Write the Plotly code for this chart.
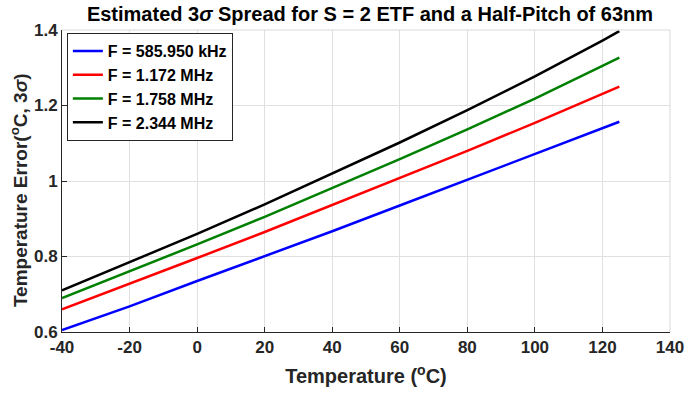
import plotly.graph_objects as go

temps = [-40, -20, 0, 20, 40, 60, 80, 100, 120, 125]
blue = [0.605, 0.668, 0.735, 0.800, 0.867, 0.935, 1.003, 1.072, 1.140, 1.157]
red = [0.660, 0.727, 0.796, 0.865, 0.936, 1.007, 1.080, 1.154, 1.230, 1.250]
green = [0.690, 0.760, 0.832, 0.905, 0.981, 1.058, 1.137, 1.218, 1.305, 1.327]
black = [0.710, 0.784, 0.860, 0.938, 1.019, 1.102, 1.188, 1.277, 1.372, 1.397]
names = ["F = 585.950 kHz", "F = 1.172 MHz", "F = 1.758 MHz", "F = 2.344 MHz"]
colors = ["#0000ff", "#ff0000", "#008000", "#000000"]
series = [blue, red, green, black]

xticks = [-40, -20, 0, 20, 40, 60, 80, 100, 120, 140]
xtick_text = ["-40", "-20", "0", "20", "40", "60", "80", "100", "120", "140"]
yticks = [0.6, 0.8, 1.0, 1.2, 1.4]
ytick_text = ["0.6", "0.8", "1", "1.2", "1.4"]

font = "Liberation Sans, Arial, sans-serif"
fig = go.Figure()
for ys, n, c in zip(series, names, colors):
    fig.add_trace(go.Scatter(x=temps, y=ys, mode="lines", name=n,
                             line=dict(color=c, width=2.5)))

fig.update_layout(
    width=696, height=395,
    margin=dict(l=62, r=16, t=30, b=60),
    paper_bgcolor="white", plot_bgcolor="white",
    font=dict(family=font, color="#262626", size=17),
    title=dict(text="<b>Estimated 3<i>σ</i> Spread for S = 2 ETF and a Half-Pitch of 63nm</b>",
               x=370/696, xanchor="center", y=1 - 14/395, yanchor="middle",
               font=dict(size=20, color="black", family=font)),
    legend=dict(x=0.008, y=0.99, xanchor="left", yanchor="top",
                bordercolor="#262626", borderwidth=1, bgcolor="white",
                font=dict(size=16, color="black", family=font, weight="bold"),
                itemwidth=30, tracegroupgap=0),
    showlegend=True,
)
fig.update_xaxes(range=[-40, 140], tickvals=xticks, ticktext=xtick_text, ticks="inside",
                 ticklen=5, tickcolor="#262626", showline=True, linecolor="#262626",
                 linewidth=1, mirror=False, showgrid=True, gridcolor="#e0e0e0",
                 zeroline=False,
                 tickfont=dict(size=17, family=font, weight="bold", color="#262626"),
                 title=dict(text="<b>Temperature (<sup>o</sup>C)</b>", standoff=12,
                            font=dict(size=20, family=font, color="#262626")))
fig.update_yaxes(range=[0.6, 1.4], tickvals=yticks, ticktext=ytick_text, ticks="inside",
                 ticklen=5, tickcolor="#262626", showline=True, linecolor="#262626",
                 linewidth=1, mirror=False, showgrid=True, gridcolor="#e0e0e0",
                 zeroline=False,
                 tickfont=dict(size=17, family=font, weight="bold", color="#262626"))
fig.add_annotation(text="<b>Temperature Error(<sup>o</sup>C, 3<i>σ</i>)</b>",
                   textangle=-90, xref="paper", yref="paper",
                   x=-43/618, y=1 - (192 - 30) / 305, xanchor="center", yanchor="middle",
                   showarrow=False, font=dict(size=19, family=font, color="#262626"))
fig.add_shape(type="line", xref="paper", yref="paper", x0=0, x1=1, y0=1, y1=1,
              line=dict(color="#d9d9d9", width=1))
fig.add_shape(type="line", xref="paper", yref="paper", x0=1, x1=1, y0=0, y1=1,
              line=dict(color="#d9d9d9", width=1))
fig.write_html("out.html")
